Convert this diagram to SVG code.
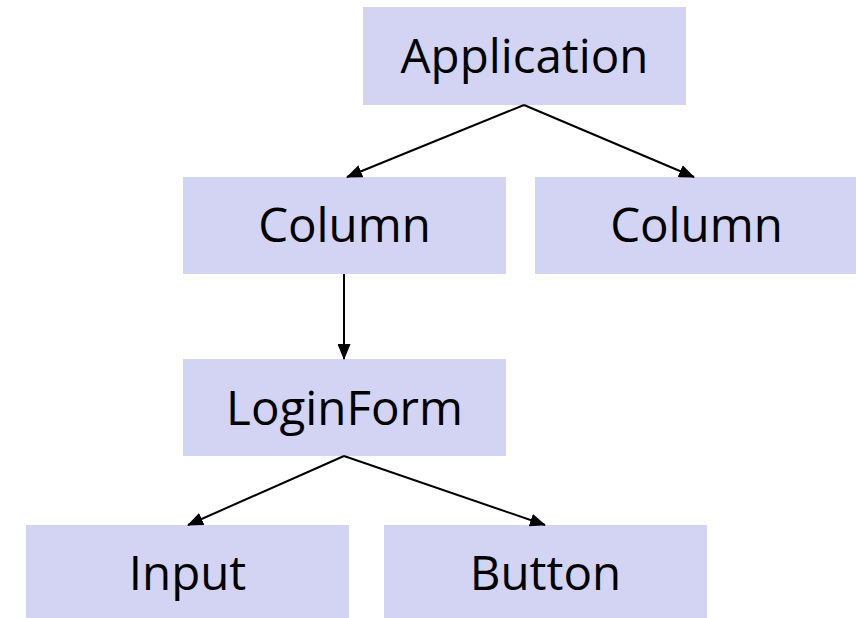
<svg xmlns="http://www.w3.org/2000/svg" width="856" height="618" viewBox="0 0 856 618">
<style>
.box{fill:#d3d3f3;}
.lbl{font-family:"Open Sans","Noto Sans",sans-serif;font-size:47.5px;fill:#000;text-anchor:middle;}
.edge{stroke:#000;stroke-width:2;fill:none;marker-end:url(#arr);}
</style>
<defs>
<marker id="arr" viewBox="0 0 16 13" refX="15" refY="6.5" markerWidth="16" markerHeight="13" markerUnits="userSpaceOnUse" orient="auto">
<path d="M0,0 L16,6.5 L0,13 Z" fill="#000"/>
</marker>
</defs>
<rect width="856" height="618" fill="#fff"/>
<g id="n-application"><rect class="box" x="363" y="7" width="323" height="98"/><text class="lbl" x="524.5" y="73">Application</text></g>
<g id="n-column1"><rect class="box" x="183" y="177" width="323" height="97"/><text class="lbl" x="344.5" y="242">Column</text></g>
<g id="n-column2"><rect class="box" x="535" y="177" width="323" height="97"/><text class="lbl" x="696.5" y="242">Column</text></g>
<g id="n-loginform"><rect class="box" x="183" y="359" width="323" height="97"/><text class="lbl" x="344.5" y="425">LoginForm</text></g>
<g id="n-input"><rect class="box" x="26" y="525" width="323" height="93"/><text class="lbl" x="187.5" y="590">Input</text></g>
<g id="n-button"><rect class="box" x="384" y="525" width="323" height="93"/><text class="lbl" x="545.5" y="590">Button</text></g>
<g id="connectors">
<path class="edge" d="M524,105 L347,177"/>
<path class="edge" d="M524,105 L694,177"/>
<path class="edge" d="M344,274 L344,359"/>
<path class="edge" d="M344,456 L188,525"/>
<path class="edge" d="M344,456 L545,525"/>
</g>
</svg>
